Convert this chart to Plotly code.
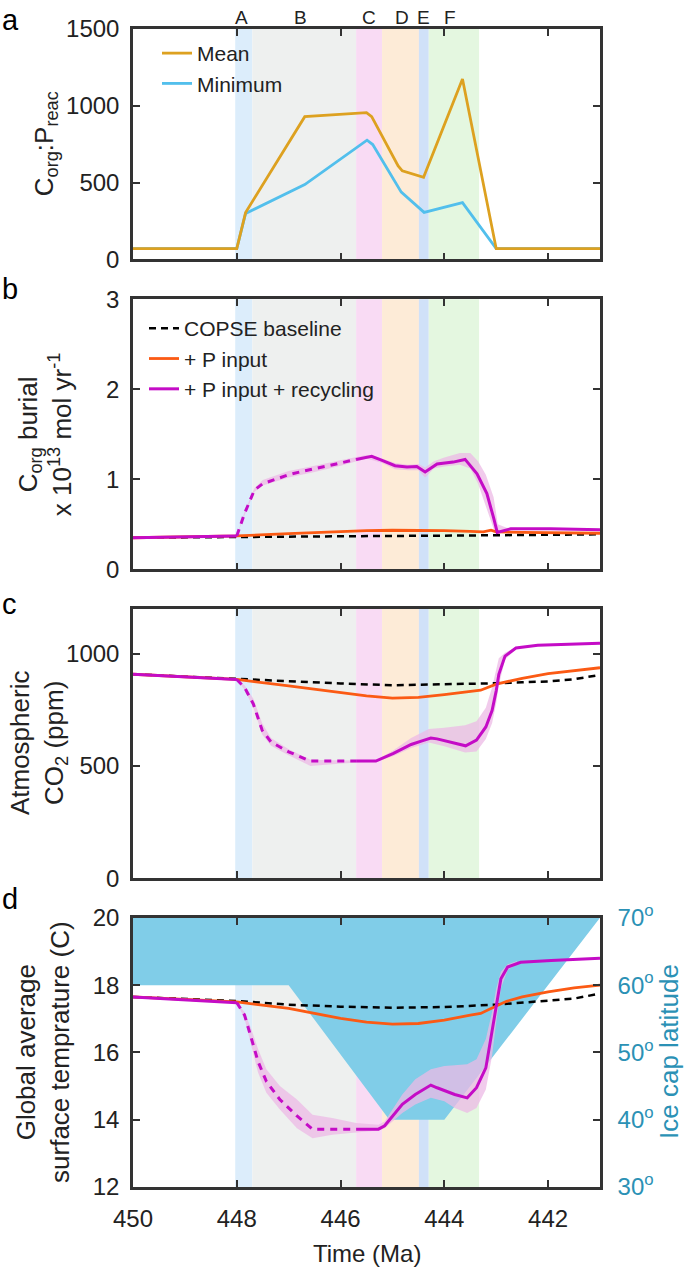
import plotly.graph_objects as go

# ---------------- data ----------------
x_range = [450, 441]
x_ticks = [450, 448, 446, 444, 442]

band_start = [448.03, 447.70, 445.70, 445.20, 444.49, 444.30]
band_end = [447.70, 445.70, 445.20, 444.49, 444.30, 443.33]
band_colors = ["#dcedfb", "#eef0ef", "#f9dbf4", "#fdebd7", "#d0e1f8", "#e4f7e0"]
band_letters = ["A", "B", "C", "D", "E", "F"]
letter_x = [447.90, 446.77, 445.45, 444.81, 444.40, 443.89]

# panel a : Corg:Preac
mean_x = [450, 448.0, 447.83, 446.69, 445.5, 445.4, 444.89, 444.81, 444.4, 443.7, 443.65, 443.0, 441]
mean_y = [70, 70, 305, 929, 955, 929, 609, 577, 534, 1132, 1175, 70, 70]
min_x = [450, 448.0, 447.83, 446.69, 445.49, 445.38, 444.83, 444.39, 443.65, 443.0, 441]
min_y = [70, 70, 299, 487, 776, 748, 438, 306, 370, 70, 70]

# panel b : Corg burial (x 1e13 mol/yr)
b_base_x = [450, 449, 448, 447, 446, 445, 444, 443, 442, 441]
b_base_y = [0.35, 0.355, 0.362, 0.365, 0.367, 0.37, 0.373, 0.378, 0.383, 0.388]
b_p_x = [450, 449, 448, 447, 446, 445.5, 445, 444.5, 444, 443.5, 443.25, 443.1, 443.0, 442.5, 442, 441]
b_p_y = [0.35, 0.36, 0.37, 0.395, 0.42, 0.428, 0.433, 0.433, 0.43, 0.42, 0.415, 0.435, 0.415, 0.41, 0.405, 0.40]
b_r_x = [450, 449, 448.0, 447.85, 447.66, 447.5, 447.0, 446.79, 446.15, 445.7, 445.4, 445.2, 444.95,
         444.72, 444.53, 444.37, 444.14, 443.83, 443.6, 443.37, 443.18, 443.05, 442.98, 442.72, 441.95, 441]
b_r_y = [0.35, 0.36, 0.37, 0.62, 0.88, 0.95, 1.05, 1.08, 1.16, 1.22, 1.255, 1.21, 1.15,
         1.135, 1.14, 1.08, 1.17, 1.19, 1.22, 1.06, 0.84, 0.57, 0.41, 0.45, 0.45, 0.44]
b_env_x = [448.0, 447.85, 447.66, 447.5, 447.0, 446.5, 446.0, 445.5, 445.2, 444.95, 444.7, 444.5,
           444.37, 444.2, 444.0, 443.7, 443.5, 443.35, 443.2, 443.05, 442.97, 442.8, 442.6]
b_env_hi = [0.37, 0.64, 0.90, 0.99, 1.09, 1.15, 1.21, 1.27, 1.23, 1.18, 1.16, 1.17,
            1.13, 1.20, 1.24, 1.29, 1.29, 1.20, 1.05, 0.80, 0.50, 0.46, 0.46]
b_env_lo = [0.37, 0.60, 0.86, 0.93, 1.02, 1.08, 1.15, 1.23, 1.18, 1.11, 1.10, 1.10,
            1.02, 1.12, 1.14, 1.16, 1.12, 0.95, 0.70, 0.45, 0.39, 0.43, 0.44]

# panel c : atmospheric CO2 (ppm)
c_base_x = [450, 449, 448, 447, 446, 445, 444, 443, 442.5, 442, 441.5, 441.2, 441]
c_base_y = [909, 898, 887, 876, 868, 860, 863, 869, 873, 877, 887, 898, 906]
c_p_x = [450, 449, 448, 447, 446, 445.5, 445, 444.5, 444, 443.5, 443.3, 443.0, 442.8, 442.5, 442, 441.5, 441]
c_p_y = [909, 898, 886, 857, 828, 813, 803, 806, 818, 832, 838, 865, 876, 891, 912, 926, 938]
c_r_x = [450, 449, 448.0, 447.85, 447.68, 447.51, 447.34, 447.0, 446.58, 446.16, 445.7, 445.32, 444.98,
         444.64, 444.43, 444.26, 444.14, 443.8, 443.59, 443.38, 443.2, 443.08, 443.0, 442.95, 442.83,
         442.62, 442.2, 441]
c_r_y = [909, 898, 886, 850, 776, 659, 607, 563, 522, 522, 522, 522, 556,
         596, 612, 625, 621, 600, 590, 615, 674, 747, 835, 909, 990,
         1026, 1038, 1047]
c_env_x = [448.0, 447.85, 447.68, 447.51, 447.34, 447.0, 446.58, 446.16, 445.7, 445.32, 444.98, 444.64,
           444.3, 444.0, 443.6, 443.38, 443.2, 443.08, 443.0, 442.95, 442.83, 442.62]
c_env_hi = [886, 860, 800, 690, 625, 575, 528, 526, 525, 525, 570, 625,
            665, 670, 682, 700, 760, 850, 930, 980, 1005, 1030]
c_env_lo = [886, 840, 760, 640, 590, 548, 500, 508, 515, 518, 545, 580,
            605, 588, 560, 565, 620, 690, 780, 860, 975, 1020]

# panel d : global temperature (C) and ice cap latitude (deg)
d_base_x = [450, 449, 448, 447, 446, 445, 444, 443, 442.5, 442, 441.5, 441]
d_base_y = [17.65, 17.59, 17.53, 17.42, 17.36, 17.33, 17.35, 17.42, 17.48, 17.53, 17.6, 17.75]
d_p_x = [450, 449, 448, 447, 446, 445.5, 445, 444.5, 444, 443.5, 443.3, 443, 442.8, 442.5, 442, 441.5, 441]
d_p_y = [17.65, 17.58, 17.5, 17.31, 17.01, 16.9, 16.84, 16.86, 16.96, 17.11, 17.16, 17.38, 17.52, 17.65, 17.8, 17.92, 18.0]
d_r_x = [450, 449, 448.0, 447.85, 447.72, 447.59, 447.43, 447.17, 446.84, 446.54, 446.16, 445.7, 445.27,
         445.15, 444.81, 444.56, 444.26, 444.14, 443.8, 443.56, 443.38, 443.2, 443.08, 443.0, 442.91,
         442.78, 442.53, 441.94, 441]
d_r_y = [17.65, 17.57, 17.48, 17.11, 16.42, 15.73, 15.14, 14.6, 14.11, 13.72, 13.72, 13.72, 13.72,
         13.82, 14.46, 14.75, 15.03, 14.95, 14.75, 14.65, 14.95, 15.54, 16.62, 17.4, 18.19,
         18.54, 18.68, 18.73, 18.8]
d_env_x = [448.0, 447.85, 447.72, 447.59, 447.43, 447.17, 446.84, 446.54, 446.16, 445.7, 445.27, 445.15,
           444.81, 444.56, 444.26, 444.0, 443.8, 443.56, 443.38, 443.2, 443.08, 443.0, 442.91, 442.78, 442.6]
d_env_hi = [17.48, 17.2, 16.7, 16.1, 15.5, 15.0, 14.6, 14.15, 14.05, 13.9, 13.85, 13.95,
            14.75, 15.2, 15.5, 15.6, 15.62, 15.65, 15.8, 16.4, 17.2, 17.9, 18.4, 18.62, 18.72]
d_env_lo = [17.48, 17.0, 16.2, 15.4, 14.8, 14.3, 13.75, 13.45, 13.55, 13.62, 13.68, 13.75,
            14.2, 14.45, 14.65, 14.55, 14.35, 14.2, 14.35, 14.9, 15.9, 16.9, 17.9, 18.45, 18.62]
ice_x = [450, 447.0, 445.06, 444.0, 441.0]
ice_lat = [60, 60, 40, 40, 70]
ice_top = 70

dash_start, dash_end = 448.0, 445.7   # recycling run drawn dashed in this interval

# ---------------- styles ----------------
FONT = "Liberation Sans, Arial, sans-serif"
TXT = "#222222"
AX = "#333333"
C_MEAN = "#dda120"
C_MIN = "#52bfec"
C_P = "#fb5a14"
C_R = "#c40cc6"
C_ENV = "rgba(236,185,230,0.75)"
C_ICE = "#80cde8"
C_LAT = "#2b91b5"

fig = go.Figure()


def seg(xs, ys, lo, hi):
    px = [x for x in xs if lo >= x >= hi]
    py = [y for x, y in zip(xs, ys) if lo >= x >= hi]
    return px, py


def add_panel(n, bx, by, pxs, pys, rxs, rys, ex, ehi, elo, yax, legend_on):
    fig.add_trace(go.Scatter(x=ex + ex[::-1], y=ehi + elo[::-1], fill="toself", mode="none",
                             fillcolor=C_ENV, hoverinfo="skip", showlegend=False,
                             xaxis="x%d" % n, yaxis=yax))
    fig.add_trace(go.Scatter(x=bx, y=by, mode="lines", line=dict(color="black", width=2.5, dash="7px,5px"),
                             name="COPSE baseline", showlegend=legend_on, legend="legend2",
                             xaxis="x%d" % n, yaxis=yax))
    fig.add_trace(go.Scatter(x=pxs, y=pys, mode="lines", line=dict(color=C_P, width=2.8),
                             name="+ P input", showlegend=legend_on, legend="legend2",
                             xaxis="x%d" % n, yaxis=yax))
    s1x, s1y = seg(rxs, rys, 451, dash_start)
    dx, dy = seg(rxs, rys, dash_start, dash_end)
    s2x, s2y = seg(rxs, rys, dash_end, 440)
    fig.add_trace(go.Scatter(x=s1x, y=s1y, mode="lines", line=dict(color=C_R, width=3),
                             showlegend=False, xaxis="x%d" % n, yaxis=yax))
    fig.add_trace(go.Scatter(x=dx, y=dy, mode="lines", line=dict(color=C_R, width=3, dash="7px,6px"),
                             showlegend=False, xaxis="x%d" % n, yaxis=yax))
    fig.add_trace(go.Scatter(x=s2x, y=s2y, mode="lines", line=dict(color=C_R, width=3),
                             name="+ P input + recycling", showlegend=legend_on, legend="legend2",
                             xaxis="x%d" % n, yaxis=yax))


# panel a
fig.add_trace(go.Scatter(x=min_x, y=min_y, mode="lines", line=dict(color=C_MIN, width=2.8),
                         name="Minimum", legend="legend", xaxis="x", yaxis="y"))
fig.add_trace(go.Scatter(x=mean_x, y=mean_y, mode="lines", line=dict(color=C_MEAN, width=2.8),
                         name="Mean", legend="legend", xaxis="x", yaxis="y"))

add_panel(2, b_base_x, b_base_y, b_p_x, b_p_y, b_r_x, b_r_y, b_env_x, b_env_hi, b_env_lo, "y2", True)
add_panel(3, c_base_x, c_base_y, c_p_x, c_p_y, c_r_x, c_r_y, c_env_x, c_env_hi, c_env_lo, "y3", False)

# ice cap (on latitude axis, base of panel d)
fig.add_trace(go.Scatter(x=ice_x + [ice_x[-1], ice_x[0]], y=ice_lat + [ice_top, ice_top], fill="toself",
                         mode="none", fillcolor=C_ICE, hoverinfo="skip", showlegend=False,
                         xaxis="x4", yaxis="y4"))
add_panel(4, d_base_x, d_base_y, d_p_x, d_p_y, d_r_x, d_r_y, d_env_x, d_env_hi, d_env_lo, "y5", False)

# ---------------- layout ----------------
W, H = 685, 1270
ML, MR, MT, MB = 133, 85, 21, 83
PW, PH = W - ML - MR, H - MT - MB


def xp(px):
    return (px - ML) / PW


def yp(py):
    return (H - MB - py) / PH


domains = {1: [yp(253), 1.0], 2: [yp(565), yp(293)], 3: [yp(876), yp(605)], 4: [0.0, yp(916)]}

common_ax = dict(showgrid=False, zeroline=False, showline=True, linecolor=AX, linewidth=2.5,
                 ticks="inside", ticklen=7, tickwidth=2, tickcolor=AX,
                 tickfont=dict(family=FONT, size=24, color=TXT))

layout = dict(width=W, height=H, margin=dict(l=ML, r=MR, t=MT, b=MB),
              paper_bgcolor="white", plot_bgcolor="white",
              font=dict(family=FONT, color=TXT))

for n in range(1, 5):
    key = "xaxis" if n == 1 else "xaxis%d" % n
    layout[key] = dict(common_ax, range=x_range, tickvals=x_ticks, mirror="ticks",
                       anchor="y" if n == 1 else "y%d" % n, showticklabels=(n == 4),
                       ticklabelstandoff=8)

layout["yaxis"] = dict(common_ax, domain=domains[1], range=[0, 1500], tickvals=[0, 500, 1000, 1500],
                       mirror="ticks", anchor="x", ticklabelstandoff=6)
layout["yaxis2"] = dict(common_ax, domain=domains[2], range=[0, 3], tickvals=[0, 1, 2, 3],
                        mirror="ticks", anchor="x2", ticklabelstandoff=6)
layout["yaxis3"] = dict(common_ax, domain=domains[3], range=[0, 1200], tickvals=[0, 500, 1000],
                        mirror="ticks", anchor="x3", ticklabelstandoff=6)
lat_ticks = [30, 40, 50, 60, 70]
layout["yaxis4"] = dict(common_ax, domain=domains[4], range=[30, 70], tickvals=lat_ticks,
                        ticktext=["%d<sup>o</sup>" % v for v in lat_ticks], side="right",
                        anchor="x4", ticklabelstandoff=10,
                        tickfont=dict(family=FONT, size=24, color=C_LAT))
layout["yaxis5"] = dict(common_ax, range=[12, 20], tickvals=[12, 14, 16, 18, 20], side="left",
                        overlaying="y4", anchor="x4", ticklabelstandoff=6)

layout["legend"] = dict(x=xp(157), y=yp(25), xanchor="left", yanchor="top", bgcolor="rgba(0,0,0,0)",
                        font=dict(family=FONT, size=21, color=TXT), traceorder="reversed",
                        tracegroupgap=0)
layout["legend2"] = dict(x=xp(144), y=yp(302), xanchor="left", yanchor="top", bgcolor="rgba(0,0,0,0)",
                         font=dict(family=FONT, size=21, color=TXT), traceorder="normal",
                         tracegroupgap=0)

shapes = []
for n in range(1, 5):
    xr = "x" if n == 1 else "x%d" % n
    yr = ("y" if n == 1 else ("y4" if n == 4 else "y%d" % n)) + " domain"
    for s, e, c in zip(band_start, band_end, band_colors):
        shapes.append(dict(type="rect", xref=xr, yref=yr, x0=s, x1=e, y0=0, y1=1,
                           fillcolor=c, line=dict(width=0), layer="below"))
layout["shapes"] = shapes

ann = []
for t, x in zip(band_letters, letter_x):
    ann.append(dict(text=t, x=x, xref="x", y=yp(9), yref="paper", showarrow=False,
                    font=dict(family=FONT, size=19, color=TXT), xanchor="center", yanchor="middle"))
for t, py in zip(["a", "b", "c", "d"], [12, 283, 600, 897]):
    ann.append(dict(text=t, x=xp(0), xref="paper", y=yp(py), yref="paper", showarrow=False,
                    font=dict(family=FONT, size=29, color="black"), xanchor="left", yanchor="middle"))
titles = [
    ("C<sub>org</sub>:P<sub>reac</sub>", 45, 137, TXT),
    ("C<sub>org</sub> burial<br>x 10<sup>13</sup> mol yr<sup>-1</sup>", 45, 429, TXT),
    ("Atmospheric<br>CO<sub>2</sub> (ppm)", 38, 740, TXT),
    ("Global average<br>surface temprature (C)", 43, 1051, TXT),
    ("Ice cap latitude", 669, 1051, C_LAT),
]
for t, px, py, col in titles:
    ann.append(dict(text=t, x=xp(px), xref="paper", y=yp(py), yref="paper", showarrow=False,
                    textangle=-90, font=dict(family=FONT, size=26, color=col),
                    xanchor="center", yanchor="middle"))
ann.append(dict(text="Time (Ma)", x=0.5, xref="paper", y=yp(1254), yref="paper", showarrow=False,
                font=dict(family=FONT, size=24, color=TXT), xanchor="center", yanchor="middle"))
layout["annotations"] = ann

fig.update_layout(**layout)
# the page body gets no default 8px margin, so the figure fills the window exactly
fig.write_html("out.html", config={"displayModeBar": False},
               post_script="document.body.style.margin='0px';")
